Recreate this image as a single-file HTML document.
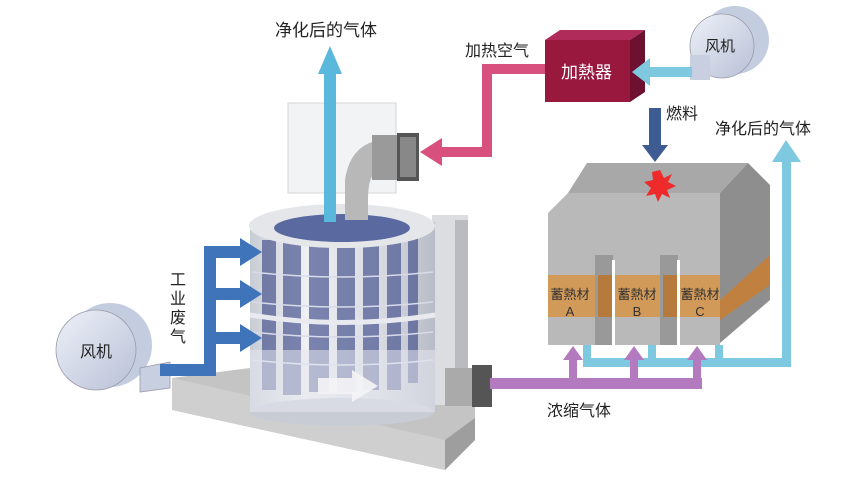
<!DOCTYPE html>
<html><head><meta charset="utf-8"><style>
html,body{margin:0;padding:0;background:#fff;width:843px;height:492px;overflow:hidden}
text{font-family:"Liberation Sans","Noto Sans CJK SC",sans-serif}
</style></head><body>
<svg width="843" height="492" viewBox="0 0 843 492" xmlns="http://www.w3.org/2000/svg">
<defs>
<linearGradient id="cyl" x1="0" x2="1" y1="0" y2="0">
<stop offset="0" stop-color="#c8ccd4"/><stop offset="0.3" stop-color="#eef0f4"/><stop offset="0.7" stop-color="#d8dbe2"/><stop offset="1" stop-color="#b8bcc6"/></linearGradient>
<linearGradient id="fan" x1="0" x2="1" y1="0" y2="1"><stop offset="0" stop-color="#eef1f8"/><stop offset="1" stop-color="#b8c0d6"/></linearGradient>
</defs>
<!-- base slab -->
<polygon points="172,378 250,368 475,398 475,440 445,470 172,410" fill="#c4c4c4"/>
<polygon points="172,378 445,440 445,470 172,410" fill="#cfcfcf"/>
<polygon points="445,440 475,418 475,440 445,470" fill="#9e9e9e"/>
<!-- right box -->
<rect x="432" y="215" width="36" height="190" fill="#dcdde1"/>
<rect x="455" y="220" width="13" height="185" fill="#b9bbc0"/>
<!-- cylinder -->
<rect x="250" y="222" width="185" height="190" fill="url(#cyl)"/>
<ellipse cx="342" cy="412" rx="92" ry="14" fill="#c8ccd4"/>
<g fill="#4a5690" opacity="0.7">
<rect x="262" y="240" width="14" height="150"/><rect x="283" y="240" width="18" height="155"/><rect x="309" y="242" width="20" height="150"/><rect x="337" y="242" width="18" height="150"/><rect x="363" y="240" width="16" height="150"/><rect x="387" y="240" width="14" height="150"/><rect x="408" y="238" width="10" height="145"/></g>
<g stroke="#d8dcea" stroke-width="1.5" fill="none">
<path d="M252,272 Q342,282 433,272"/><path d="M252,302 Q342,312 433,302"/><path d="M252,332 Q342,342 433,332"/><path d="M252,360 Q342,370 433,360"/></g>
<path d="M250,315 Q342,330 435,315" stroke="#e8eaf0" stroke-width="5" fill="none"/>
<rect x="250" y="350" width="185" height="62" fill="#e6e8ee" opacity="0.55"/>
<ellipse cx="342" cy="226" rx="93" ry="22" fill="#e4e6ea"/>
<ellipse cx="342" cy="228" rx="68" ry="14" fill="#5a6aa0"/>
<!-- glass box & duct -->
<rect x="288" y="103" width="108" height="90" fill="#f0f1f3" opacity="0.8" stroke="#ccc"/>
<path d="M345,220 L345,180 Q350,145 380,140 L380,170 Q368,172 368,200 L368,220Z" fill="#b8b8b8"/>
<rect x="372" y="135" width="30" height="45" fill="#9a9a9a"/>
<rect x="397" y="133" width="22" height="48" fill="#555"/>
<rect x="400" y="137" width="16" height="40" fill="#888"/>
<!-- white arrow -->
<polygon points="318,378 352,378 352,370 378,386 352,402 352,394 318,394" fill="#f4f4f6" opacity="0.9"/>
<!-- bottom right duct -->
<rect x="445" y="368" width="30" height="38" fill="#aaa"/>
<rect x="472" y="365" width="20" height="42" fill="#555"/>
<!-- top blue arrow -->
<rect x="324" y="72" width="12" height="150" fill="#5ab8dc"/>
<polygon points="318,74 342,74 330,46" fill="#5ab8dc"/>
<text x="275" y="36" font-size="17" fill="#222">净化后的气体</text>
<!-- left fan -->
<circle cx="110" cy="345" r="42" fill="#c4cce0"/>
<circle cx="96" cy="350" r="40" fill="url(#fan)" stroke="#99a" stroke-width="0.8"/>
<polygon points="140,368 170,362 170,388 140,392" fill="#c8cfe0" stroke="#99a" stroke-width="0.8"/>
<text x="80" y="357" font-size="16" fill="#222">风机</text>
<!-- blue exhaust -->
<g fill="#3f74bb">
<rect x="160" y="364" width="56" height="12"/>
<rect x="204" y="248" width="12" height="128"/>
<rect x="204" y="246" width="40" height="12"/><polygon points="240,238 262,252 240,266"/>
<rect x="204" y="288" width="40" height="12"/><polygon points="240,280 262,294 240,308"/>
<rect x="204" y="332" width="40" height="12"/><polygon points="240,324 262,338 240,352"/>
</g>
<text font-size="16" fill="#222"><tspan x="170" y="285">工</tspan><tspan x="170" y="304">业</tspan><tspan x="170" y="323">废</tspan><tspan x="170" y="342">气</tspan></text>
<!-- pink heated air -->
<g fill="#d8507e">
<rect x="482" y="64" width="66" height="10"/>
<rect x="482" y="64" width="10" height="93"/>
<rect x="440" y="147" width="52" height="10"/>
<polygon points="442,138 420,152 442,166"/>
</g>
<text x="465" y="56" font-size="16" fill="#222">加热空气</text>
<!-- heater -->
<polygon points="545,40 560,30 645,30 630,40" fill="#b02b5a"/>
<polygon points="630,40 645,30 645,92 630,102" fill="#6e1030"/>
<rect x="545" y="40" width="85" height="62" fill="#98183e"/>
<text x="561" y="78" font-size="17" fill="#fff">加熱器</text>
<!-- right fan -->
<circle cx="735" cy="40" r="34" fill="#c4cce0"/>
<circle cx="722" cy="46" r="32" fill="url(#fan)" stroke="#99a" stroke-width="0.8"/>
<rect x="690" y="55" width="20" height="25" fill="#c8cfe0"/>
<text x="705" y="51" font-size="15" fill="#222">风机</text>
<rect x="648" y="67" width="44" height="10" fill="#7ec8e0"/>
<polygon points="650,58 632,72 650,86" fill="#7ec8e0"/>
<!-- fuel -->
<text x="666" y="119" font-size="16" fill="#222">燃料</text>
<rect x="649" y="108" width="12" height="40" fill="#3e5b93"/>
<polygon points="642,145 668,145 655,162" fill="#3e5b93"/>
<!-- RTO block -->
<polygon points="568,193 587,163 748,163 720,193" fill="#a8a8a8"/>
<polygon points="720,193 748,163 770,185 770,300 720,343" fill="#8e8e8e"/>
<polygon points="548,213 568,193 720,193 720,345 548,345" fill="#b9b9b9"/>
<rect x="548" y="275" width="172" height="42" fill="#d29a58"/>
<polygon points="720,300 770,255 770,285 720,320" fill="#c08040"/>
<rect x="595" y="255" width="18" height="95" fill="#fff"/>
<rect x="660" y="255" width="18" height="95" fill="#fff"/>
<rect x="595" y="255" width="18" height="90" fill="#999"/>
<rect x="660" y="255" width="18" height="90" fill="#999"/>
<rect x="612" y="260" width="3" height="90" fill="#fff"/><rect x="677" y="260" width="3" height="90" fill="#fff"/>
<rect x="598" y="275" width="14" height="42" fill="#b57a3c"/><rect x="663" y="275" width="14" height="42" fill="#b57a3c"/>
<polygon points="660,170 664,178 672,174 668,182 676,186 667,190 670,198 662,194 658,202 655,194 646,196 651,188 644,182 653,180 652,172" fill="#ee2a2a"/>
<g font-size="13" fill="#333" text-anchor="middle"><text x="570" y="299">蓄熱材</text><text x="570" y="316">A</text>
<text x="637" y="299">蓄熱材</text><text x="637" y="316">B</text>
<text x="700" y="299">蓄熱材</text><text x="700" y="316">C</text></g>
<!-- clean gas right -->
<g fill="#7ec8e0">
<rect x="583" y="345" width="8" height="20"/><rect x="648" y="345" width="8" height="20"/><rect x="715" y="345" width="8" height="20"/>
<rect x="583" y="358" width="208" height="9"/>
<rect x="782" y="160" width="9" height="207"/>
<polygon points="772,162 801,162 786,140"/>
</g>
<text x="715" y="134" font-size="16" fill="#222">净化后的气体</text>
<!-- purple concentrated gas -->
<g fill="#b47ac0">
<rect x="490" y="378" width="212" height="11"/>
<rect x="569" y="358" width="8" height="25"/><polygon points="563,360 583,360 573,346"/>
<rect x="630" y="358" width="8" height="25"/><polygon points="624,360 644,360 634,346"/>
<rect x="693" y="358" width="8" height="25"/><polygon points="687,360 707,360 697,346"/>
</g>
<text x="547" y="416" font-size="16" fill="#222">浓缩气体</text>
</svg>
</body></html>
